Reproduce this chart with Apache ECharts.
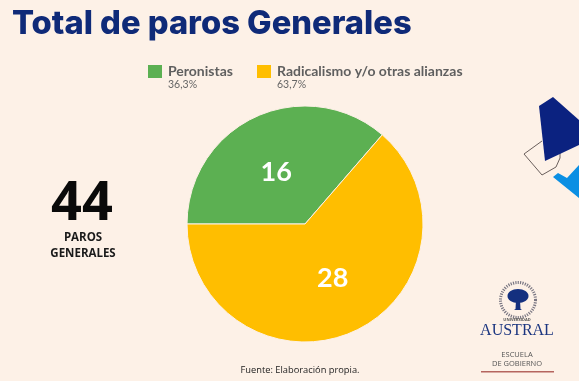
<!DOCTYPE html>
<html><head><meta charset="utf-8">
<style>html,body{margin:0;padding:0;background:#fdf1e7}#c{width:579px;height:381px}</style>
<script src="https://cdn.jsdelivr.net/npm/echarts@6/dist/echarts.min.js"></script>
</head><body><div id="c"></div>
<script>
const categories = ['Peronistas', 'Radicalismo y/o otras alianzas'];
const values = [16, 28];
const shares = ['36,3%', '63,7%'];
const colors = ['#5cb052', '#ffbe00'];
const chart = echarts.init(document.getElementById('c'), null, {renderer: 'canvas'});
const bg = '#fdf1e7';
function legendFor(i, left) {
  return {
    left: left, top: 63, orient: 'horizontal', selectedMode: false, padding: 0,
    itemWidth: 16, itemHeight: 15, itemGap: 6,
    data: [{name: categories[i], icon: 'rect'}],
    formatter: n => '{a|' + n + '}\n{b|' + shares[i] + '}',
    textStyle: {
      padding: [12, 0, 0, 0],
      rich: {
        a: {fontFamily: 'Lato', fontSize: 14, fontWeight: 'bold', color: '#5f5f5f', lineHeight: 14},
        b: {fontFamily: 'Lato', fontSize: 10.5, color: '#666', lineHeight: 12}
      }
    }
  };
}
chart.setOption({
  backgroundColor: bg,
  animation: false,
  color: colors,
  title: {
    text: 'Total de paros Generales', left: 7, top: 3,
    textStyle: {fontFamily: 'Inter', fontSize: 32.7, fontWeight: 800, color: '#0f2a78'}
  },
  legend: [legendFor(0, 146), legendFor(1, 255)],
  series: [{
    type: 'pie', center: [305, 224], radius: [0, 118], startAngle: 180, clockwise: true,
    data: categories.map((c, i) => ({name: c, value: values[i],
      label: {offset: i === 0 ? [-3, 5] : [2, -2]}})),
    itemStyle: {borderColor: bg, borderWidth: 1},
    label: {
      position: 'inside', formatter: '{c}', color: '#fff',
      fontFamily: 'Lato', fontSize: 27, fontWeight: 'bold'
    },
    labelLine: {show: false}
  }],
  graphic: [
    {type: 'text', style: {text: '44', x: 82, y: 205, align: 'center', verticalAlign: 'middle',
      font: 'bold 54px "Open Sans"', fill: '#0a0a0a'}},
    {type: 'text', style: {text: 'PAROS', x: 83, y: 238, align: 'center', verticalAlign: 'middle',
      font: 'bold 11.5px "Open Sans"', fill: '#1a1a1a'}},
    {type: 'text', style: {text: 'GENERALES', x: 83, y: 254, align: 'center', verticalAlign: 'middle',
      font: 'bold 11.5px "Open Sans"', fill: '#1a1a1a'}},
    {type: 'text', style: {text: 'Fuente: Elaboración propia.', x: 300, y: 370, align: 'center', verticalAlign: 'middle',
      font: '9.3px "Open Sans"', fill: '#222'}},
    // decorative shapes on the right edge
    {type: 'polyline', shape: {points: [[542,141],[524,154],[542,175],[556,167],[560,158],[560,145]]},
      style: {stroke: '#6a5f5c', lineWidth: 1, fill: 'none'}},
    {type: 'polygon', shape: {points: [[553,97],[539,106],[545,161],[579,145],[579,120]]},
      style: {fill: '#0b2280'}},
    {type: 'polygon', shape: {points: [[553,177],[558,173],[567,178],[579,165],[579,198]]},
      style: {fill: '#0b8fe3'}},
    // university logo
    {type: 'circle', shape: {cx: 518, cy: 300, r: 17.5},
      style: {fill: 'none', stroke: '#7a7783', lineWidth: 3, lineDash: [1.2, 1.2]}},
    {type: 'ellipse', shape: {cx: 518, cy: 296, rx: 10.5, ry: 7}, style: {fill: '#14307f'}},
    {type: 'polygon', shape: {points: [[516,300],[520,300],[520.5,309],[522,310],[514,310],[515.5,309]]}, style: {fill: '#14307f'}},
    {type: 'text', style: {text: 'UNIVERSIDAD', x: 517, y: 320, align: 'center', verticalAlign: 'middle',
      font: 'bold 4px "Open Sans"', fill: '#555', letterSpacing: 1.5}},
    {type: 'text', style: {text: 'AUSTRAL', x: 517, y: 331, align: 'center', verticalAlign: 'middle',
      font: '16px "Liberation Serif"', fill: '#1c3680'}},
    {type: 'text', style: {text: 'ESCUELA', x: 517, y: 355, align: 'center', verticalAlign: 'middle',
      font: '7.5px "Open Sans"', fill: '#555'}},
    {type: 'text', style: {text: 'DE GOBIERNO', x: 517, y: 364, align: 'center', verticalAlign: 'middle',
      font: '7.5px "Open Sans"', fill: '#555'}},
    {type: 'rect', shape: {x: 481, y: 371, width: 73, height: 1.5}, style: {fill: '#b5655f'}}
  ]
});
</script></body></html>
